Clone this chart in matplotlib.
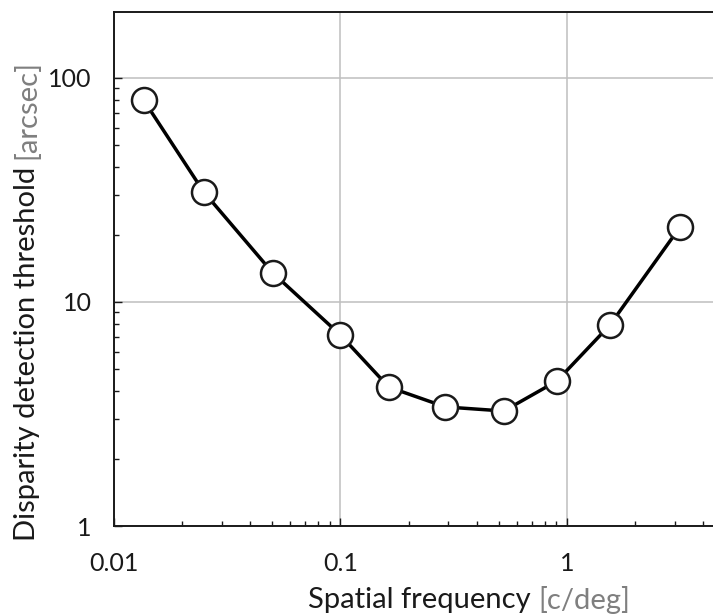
import matplotlib
matplotlib.use("Agg")
import matplotlib.pyplot as plt
from matplotlib.ticker import LogLocator, FixedLocator, FixedFormatter, NullFormatter

plt.rcParams['font.family'] = ['Lato', 'DejaVu Sans']

# Data
spatial_freq = [0.0135, 0.0249, 0.0502, 0.100, 0.1635, 0.291, 0.527, 0.904, 1.549, 3.16]
threshold = [79.8, 31.0, 13.5, 7.12, 4.17, 3.40, 3.26, 4.44, 7.89, 21.6]
x_ticks = [0.01, 0.1, 1]
x_tick_labels = ["0.01", "0.1", "1"]
y_ticks = [1, 10, 100]
y_tick_labels = ["1", "10", "100"]

W, H = 713, 614
fig = plt.figure(figsize=(W / 100, H / 100), dpi=100)
L, R, T, B = 114, 713, 12, 526
ax = fig.add_axes([L / W, 1 - B / H, (R - L) / W, (B - T) / H])
ax.set_xscale('log')
ax.set_yscale('log')
ax.set_xlim(0.01, 4.42)
ax.set_ylim(1, 197)

ax.plot(spatial_freq, threshold, color='black', lw=2.5, marker='o',
        markersize=18, markerfacecolor='white', markeredgecolor='#1a1a1a',
        markeredgewidth=1.8, zorder=3)

ax.xaxis.set_major_locator(FixedLocator(x_ticks))
ax.xaxis.set_major_formatter(FixedFormatter(x_tick_labels))
ax.yaxis.set_major_locator(FixedLocator(y_ticks))
ax.yaxis.set_major_formatter(FixedFormatter(y_tick_labels))
ax.xaxis.set_minor_locator(LogLocator(base=10, subs=range(2, 10)))
ax.yaxis.set_minor_locator(LogLocator(base=10, subs=range(2, 10)))
ax.xaxis.set_minor_formatter(NullFormatter())
ax.yaxis.set_minor_formatter(NullFormatter())

ax.grid(True, which='major', color='#bfbfbf', lw=1.1, zorder=0)
ax.set_axisbelow(True)

for s in ['left', 'bottom', 'top']:
    ax.spines[s].set_linewidth(1.4)
    ax.spines[s].set_color('#1a1a1a')
ax.spines['right'].set_visible(False)

ax.tick_params(which='major', direction='in', length=5.5, width=1.0, color='#1a1a1a',
               labelsize=18, labelcolor='#1a1a1a')
ax.tick_params(which='minor', direction='in', length=3.5, width=1.0, color='#1a1a1a')
ax.tick_params(axis='x', which='both', pad=19, top=False)
ax.tick_params(axis='y', which='both', pad=16, right=False)

# Mixed-colour axis labels
fig.canvas.draw()
renderer = fig.canvas.get_renderer()
fs = 21
# x label
t1 = fig.text(308 / W, 1 - 600 / H, "Spatial frequency ", fontsize=fs, color='#1a1a1a',
              ha='left', va='center')
bb = t1.get_window_extent(renderer)
fig.text(bb.x1 / W, 1 - 600 / H, "[c/deg]", fontsize=fs, color='#7f7f7f',
         ha='left', va='center')
# y label
t2 = fig.text(27 / W, 1 - 541 / H, "Disparity detection threshold ", fontsize=fs,
              color='#1a1a1a', rotation=90, ha='center', va='bottom')
bb2 = t2.get_window_extent(renderer)
fig.text(27 / W, bb2.y1 / H, "[arcsec]", fontsize=fs, color='#7f7f7f',
         rotation=90, ha='center', va='bottom')

fig.savefig('out.png', dpi=100)
